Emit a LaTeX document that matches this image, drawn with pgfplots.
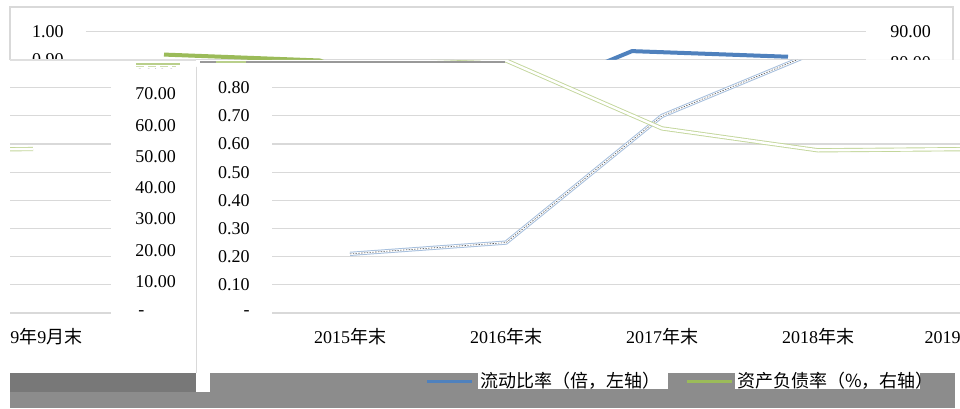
\documentclass[border=0pt]{standalone}
\usepackage{pgfplots}
\usepackage{pgfplotstable}
\pgfplotsset{compat=1.18}
\usepackage{fontspec}
\setmainfont{Liberation Serif}
\newfontfamily\cjk{Noto Sans CJK SC}
\definecolor{xblue}{HTML}{4F81BD}
\definecolor{xgreen}{HTML}{9BBB59}
\definecolor{gridc}{HTML}{D9D9D9}

\pgfplotstableread{
x blue green
0 0.21 82.6
1 0.25 80.7
2 0.70 59.0
3 0.93 52.0
4 0.91 52.4
}\datatab

\newcommand{\lblfont}{\fontsize{9}{11}\selectfont}

\newcommand{\truechart}[3]{%
  \begin{axis}[
    at={(43pt,47.5pt)}, anchor=south west,
    scale only axis, width=390pt, height=140.8pt,
    xmin=-0.5, xmax=4.5, ymin=0, ymax=1,
    axis line style={draw=none}, major tick length=0pt,
    ymajorgrids, grid style={gridc, line width=0.6pt},
    xtick={0,1,2,3,4},
    xticklabels={2015{\cjk 年末},2016{\cjk 年末},2017{\cjk 年末},2018{\cjk 年末},2019{\cjk 年}9{\cjk 月末}},
    xticklabel style={anchor=base, yshift=-15pt, inner sep=0pt, font=\lblfont},
    ytick={0,0.1,0.2,0.3,0.4,0.5,0.6,0.7,0.8,0.9,1},
    yticklabels={-\hspace{5pt},0.10,0.20,0.30,0.40,0.50,0.60,0.70,0.80,0.90,1.00},
    yticklabel style={anchor=east, xshift=-11pt, inner sep=0pt, font=\lblfont},
    clip=false,
  ]
    \addplot[#1] table[x=x, y=blue]{\datatab};
    \addplot[#3] table[x=x, y=blue]{\datatab};
  \end{axis}
  \begin{axis}[
    at={(43pt,47.5pt)}, anchor=south west,
    scale only axis, width=390pt, height=140.8pt,
    xmin=-0.5, xmax=4.5, ymin=0, ymax=90,
    axis line style={draw=none}, major tick length=0pt,
    xtick=\empty, yticklabel pos=right,
    ytick={0,10,20,30,40,50,60,70,80,90},
    yticklabels={\,-,10.00,20.00,30.00,40.00,50.00,60.00,70.00,80.00,90.00},
    yticklabel style={anchor=west, xshift=12pt, inner sep=0pt, font=\lblfont},
    clip=false,
  ]
    \addplot[#2] table[x=x, y=green]{\datatab};
  \end{axis}
  \draw[gridc, line width=1pt] (5pt,4pt) rectangle (476.5pt,200.5pt);
}

\begin{document}
\begin{tikzpicture}
\useasboundingbox (0pt,0pt) rectangle (480pt,204pt);
\fill[white] (0pt,0pt) rectangle (480pt,204pt);
% top strip (unshifted)
\begin{scope}
  \clip (0pt,174pt) rectangle (480pt,204pt);
  \truechart{xblue, line width=2pt}{xgreen, line width=2pt}{draw=none}
\end{scope}
% main body (shifted right)
\begin{scope}
  \clip (98pt,17.5pt) -- (480pt,17.5pt) -- (480pt,174pt) -- (135pt,174pt) -- (135pt,170.5pt) -- (98pt,170.5pt) -- cycle;
  \begin{scope}[xshift=93pt]
    \truechart{draw=xblue!50, line width=0.5pt, double=white, double distance=1.1pt}{draw=xgreen!60, line width=0.45pt, double=white, double distance=1.2pt}{black!65, line width=0.3pt, dash pattern=on 0.7pt off 0.7pt}
  \end{scope}
\end{scope}
% wrapped left part
\begin{scope}
  \clip (5pt,17.5pt) rectangle (98pt,169.5pt);
  \begin{scope}[xshift=-377.5pt]
    \truechart{draw=xblue!50, line width=0.5pt, double=white, double distance=1.1pt}{draw=xgreen!60, line width=0.45pt, double=white, double distance=1.2pt}{black!65, line width=0.3pt, dash pattern=on 0.7pt off 0.7pt}
  \end{scope}
\end{scope}
% artefact lines
\draw[gray!25, line width=0.8pt] (5pt,174pt) -- (98pt,174pt);
\draw[gray!80, line width=0.6pt] (100pt,173pt) -- (252.5pt,173pt);
\draw[xgreen!70, line width=0.6pt] (68pt,172pt) -- (90pt,172pt);
\draw[xgreen!50, line width=0.5pt, dash pattern=on 4pt off 2pt] (68pt,170.5pt) -- (88pt,170.5pt);
\draw[xgreen!70, line width=0.6pt] (108pt,173pt) -- (123pt,173pt);
% bottom strip
\fill[black!45] (5pt,0pt) rectangle (477.5pt,17.5pt);
\fill[black!53] (5pt,8pt) rectangle (98pt,17.5pt);
\fill[white] (98pt,8pt) rectangle (105pt,17.5pt);
\fill[white] (239pt,9.5pt) rectangle (334pt,17.5pt);
\fill[white] (367.5pt,9.5pt) rectangle (460pt,17.5pt);
\draw[xblue, line width=1.5pt] (213.5pt,13.5pt) -- (236pt,13.5pt);
\draw[xgreen, line width=1.5pt] (343.5pt,13.5pt) -- (366pt,13.5pt);
\node[anchor=west, inner sep=0pt, font=\lblfont] at (240pt,13.5pt) {\cjk 流动比率（倍，左轴）};
\node[anchor=west, inner sep=0pt, font=\lblfont] at (368.5pt,13.5pt) {\cjk 资产负债率（\%，右轴）};
\end{tikzpicture}
\end{document}
